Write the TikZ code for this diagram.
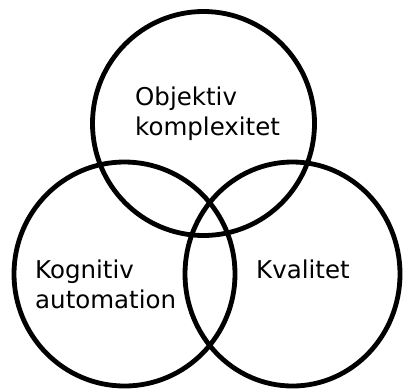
\documentclass[tikz,border=0pt]{standalone}
\usepackage{fontspec}
\setmainfont{DejaVu Sans}
\usetikzlibrary{calc, positioning}

\begin{document}
\begin{tikzpicture}[x=1pt,y=-1pt]
\def\lw{4.8pt}
\def\rad{112}
\useasboundingbox (0,0) rectangle (403,391);
\coordinate (Top) at (203.5,123.5);
\coordinate (Left) at (124.5,274);
\coordinate (Right) at (292.5,274);

\draw[line width=\lw,black] (Top) ellipse [x radius=111, y radius=\rad];
\draw[line width=\lw,black] (Left) ellipse [x radius=110.5, y radius=\rad];
\draw[line width=\lw,black] (Right) ellipse [x radius=107.5, y radius=\rad];

% base anchor of a two-line node sits on its last line
\node[anchor=base west,inner sep=0pt,align=left,font=\fontsize{24.5}{29.5}\selectfont] (objektiv) at (135,135) {Objektiv\\komplexitet};
\node[anchor=base west,inner sep=0pt,align=left,font=\fontsize{24.5}{29.5}\selectfont] (kognitiv) at (35,308) {Kognitiv\\automation};
\node[anchor=base west,inner sep=0pt,font=\fontsize{24.5}{29.5}\selectfont] (kvalitet) at (256,278) {Kvalitet};
\end{tikzpicture}
\end{document}
